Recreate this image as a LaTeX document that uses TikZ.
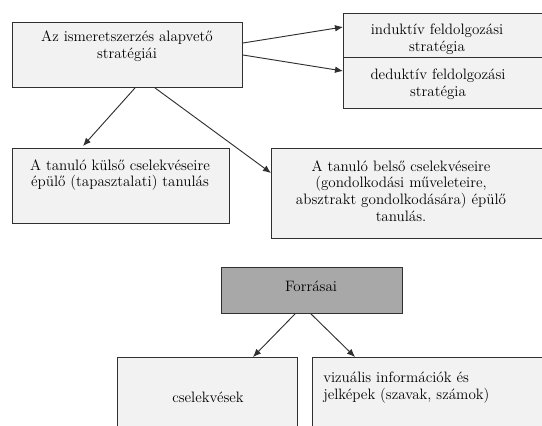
\documentclass[tikz,border=0pt]{standalone}
\usepackage{tikz}
\usetikzlibrary{arrows.meta, calc}
\definecolor{boxgray}{HTML}{F2F2F2}
\definecolor{headgray}{HTML}{A8A8A8}
\definecolor{linegray}{HTML}{303030}

\begin{document}
\begin{tikzpicture}[x=0.75pt, y=-0.75pt,
	box/.style={draw=linegray, fill=boxgray, line width=0.7pt, anchor=north west, inner sep=0pt},
	txt/.style={align=center, inner sep=0pt, font=\fontsize{11.3}{12.6}\selectfont},
	arr/.style={draw=linegray, line width=0.7pt, -{Latex[length=6pt,width=5pt]}}]
	\useasboundingbox (0,0) rectangle (542,425);
	% upper part
	\node[box, minimum width=172.5pt, minimum height=48.75pt] (strat) at (12,22) {};
	\node[box, minimum width=165pt, minimum height=33pt] (ind) at (343,13) {};
	\node[box, minimum width=165pt, minimum height=38.25pt] (ded) at (343,57) {};
	\node[box, minimum width=162.75pt, minimum height=56.25pt] (kulso) at (12,148) {};
	\node[box, minimum width=217.5pt, minimum height=67.5pt] (belso) at (271,148) {};
	\node[txt] (strat-t) at (127,46) {Az ismeretszerzés alapvető\\stratégiái};
	\node[txt] (ind-t) at (437,39.5) {induktív feldolgozási\\stratégia};
	\node[txt] (ded-t) at (438,84.5) {deduktív feldolgozási\\stratégia};
	\node[txt] (kulso-t) at (120,175) {A tanuló külső cselekvéseire\\épülő (tapasztalati) tanulás};
	\node[txt] (belso-t) at (401,191) {A tanuló belső cselekvéseire\\(gondolkodási műveleteire,\\absztrakt gondolkodására) épülő\\tanulás.};
	\draw[arr] ($(strat.north east)+(0,21)$) -- ($(ind.north west)+(0,14)$);
	\draw[arr] ($(strat.north east)+(0,33)$) -- ($(ded.north west)+(0,14)$);
	\draw[arr] ($(strat.south west)+(123,0)$) -- ($(kulso.north west)+(71,-2)$);
	\draw[arr] ($(strat.south west)+(143,0)$) -- ($(belso.north west)+(0,25)$);
	% lower part
	\node[box, fill=headgray, minimum width=135.75pt, minimum height=34.5pt] (forras) at (221,267) {};
	\node[box, minimum width=135pt, minimum height=67.5pt] (csel) at (117,357) {};
	\node[box, minimum width=187.5pt, minimum height=67.5pt] (viz) at (312,357) {};
	\node[txt] (forras-t) at (311,286) {Forrásai};
	\node[txt] (csel-t) at (208,397) {cselekvések};
	\node[txt, align=left, anchor=west] (viz-t) at (323,387.5) {vizuális információk és\\jelképek (szavak, számok)};
	\draw[arr] ($(forras.south west)+(74,0)$) -- ($(csel.north west)+(136,0)$);
	\draw[arr] ($(forras.south west)+(90,0)$) -- ($(viz.north west)+(43,0)$);
\end{tikzpicture}
\end{document}
